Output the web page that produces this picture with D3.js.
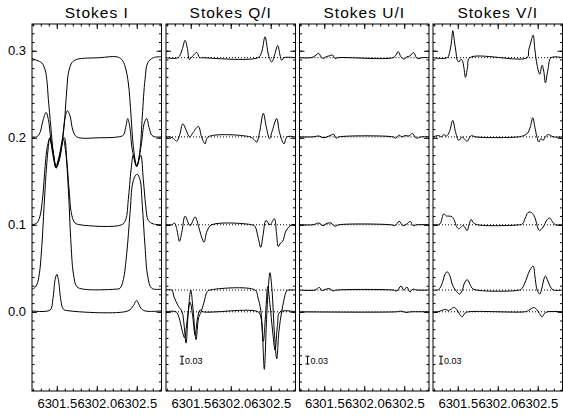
<!DOCTYPE html>
<html><head><meta charset="utf-8">
<script src="https://cdn.jsdelivr.net/npm/d3@7"></script>
<style>body{margin:0;background:#fff}svg{display:block;font-family:"Liberation Sans",Arial,sans-serif}</style>
</head><body><svg id="c" width="563" height="416"></svg>
<script>
// ---------------- data ----------------
const panelTitles = ["Stokes I", "Stokes Q/I", "Stokes U/I", "Stokes V/I"];
const offsets = [0.292, 0.201, 0.1, 0.025, 0.0];
const yTicks = [0.0, 0.1, 0.2, 0.3];
const xTicks = [6301.5, 6302.0, 6302.5];
const xDomain = [6301.19, 6302.81];
const yDomain = [-0.091, 0.3307];
const scaleBarLabel = "0.03";
const scaleBarSpan = [-0.060, -0.051];
const scaleBarLambda = [6301.39, 6301.29, 6301.29];

// Stokes I (absolute plotted values)
const stokesI_a = [[6301.19,0.291],[6301.25,0.289],[6301.3125,0.286],[6301.354,0.278],[6301.375,0.267],[6301.395,0.244],[6301.425,0.213],[6301.4575,0.182],[6301.491,0.165],[6301.52,0.171],[6301.5625,0.190],[6301.595,0.217],[6301.625,0.255],[6301.645,0.274],[6301.6875,0.286],[6301.75,0.290],[6302.04,0.292],[6302.25,0.293],[6302.3125,0.290],[6302.354,0.282],[6302.395,0.263],[6302.429,0.225],[6302.4575,0.190],[6302.5,0.167],[6302.541,0.186],[6302.57,0.225],[6302.604,0.267],[6302.6375,0.286],[6302.7075,0.292],[6302.81,0.293]];
const stokesI_b = [[6301.19,0.201],[6301.25,0.201],[6301.29,0.206],[6301.325,0.219],[6301.366,0.229],[6301.395,0.221],[6301.425,0.198],[6301.4575,0.177],[6301.491,0.166],[6301.5325,0.175],[6301.575,0.202],[6301.604,0.223],[6301.6325,0.231],[6301.666,0.225],[6301.70,0.209],[6301.75,0.201],[6302.04,0.200],[6302.27,0.201],[6302.3325,0.203],[6302.3625,0.212],[6302.3875,0.222],[6302.4125,0.213],[6302.445,0.186],[6302.5,0.167],[6302.554,0.190],[6302.595,0.217],[6302.625,0.222],[6302.654,0.212],[6302.6875,0.203],[6302.729,0.201],[6302.81,0.201]];
const stokesI_c = [[6301.19,0.100],[6301.25,0.102],[6301.29,0.110],[6301.325,0.133],[6301.354,0.167],[6301.3825,0.190],[6301.416,0.200],[6301.45,0.186],[6301.491,0.168],[6301.5325,0.180],[6301.575,0.198],[6301.595,0.200],[6301.625,0.175],[6301.654,0.140],[6301.6875,0.111],[6301.729,0.102],[6301.79,0.100],[6302.3125,0.100],[6302.3625,0.106],[6302.395,0.129],[6302.429,0.163],[6302.4575,0.180],[6302.5,0.168],[6302.55,0.180],[6302.5825,0.152],[6302.6125,0.122],[6302.645,0.105],[6302.7075,0.101],[6302.81,0.100]];
const stokesI_d = [[6301.19,0.026],[6301.216,0.027],[6301.25,0.031],[6301.2825,0.044],[6301.3125,0.075],[6301.341,0.121],[6301.366,0.159],[6301.395,0.190],[6301.41,0.199],[6301.45,0.185],[6301.491,0.166],[6301.5325,0.178],[6301.5825,0.198],[6301.61,0.185],[6301.645,0.140],[6301.675,0.083],[6301.7075,0.044],[6301.75,0.029],[6301.8325,0.026],[6302.229,0.026],[6302.291,0.027],[6302.3325,0.037],[6302.375,0.067],[6302.416,0.113],[6302.45,0.148],[6302.4875,0.157],[6302.5075,0.158],[6302.541,0.152],[6302.57,0.122],[6302.604,0.075],[6302.6375,0.041],[6302.6875,0.027],[6302.81,0.026]];
const stokesI_e = [[6301.19,0.001],[6301.416,0.002],[6301.45,0.014],[6301.479,0.037],[6301.5,0.043],[6301.52,0.037],[6301.55,0.014],[6301.5825,0.003],[6301.666,0.001],[6302.39,0.001],[6302.4575,0.007],[6302.4875,0.012],[6302.5,0.013],[6302.52,0.010],[6302.554,0.004],[6302.604,0.001],[6302.81,0.001]];

// Stokes Q/I (deviation from offset, plot units)
const stokesQ_a = [[6301.19,0],[6301.341,0],[6301.391,0.009],[6301.429,0.020],[6301.46,0.009],[6301.4825,-0.002],[6301.516,0.001],[6301.575,0.006],[6301.61,0],[6301.6375,0],[6302.341,0],[6302.385,0.006],[6302.429,0.024],[6302.4725,0.003],[6302.5125,-0.005],[6302.5475,0.003],[6302.5875,0.014],[6302.616,0.003],[6302.6375,-0.003],[6302.666,0],[6302.81,0]];
const stokesQ_b = [[6301.19,0],[6301.241,0],[6301.285,-0.002],[6301.325,-0.005],[6301.36,0.002],[6301.40,0.015],[6301.441,0.008],[6301.485,0],[6301.529,0.005],[6301.595,0.012],[6301.635,0],[6301.679,-0.008],[6301.716,0],[6302.241,0],[6302.291,-0.003],[6302.325,-0.006],[6302.36,0.005],[6302.4075,0.027],[6302.4475,0.010],[6302.485,-0.002],[6302.5225,0.008],[6302.575,0.021],[6302.61,0.005],[6302.666,-0.008],[6302.704,0],[6302.81,0]];
const stokesQ_c = [[6301.19,0],[6301.2625,0],[6301.2975,0.002],[6301.329,-0.007],[6301.3575,-0.019],[6301.391,-0.007],[6301.429,0.010],[6301.491,-0.001],[6301.554,0.009],[6301.5975,-0.002],[6301.635,-0.014],[6301.666,-0.020],[6301.704,-0.007],[6301.7625,0],[6302.2625,0],[6302.304,-0.002],[6302.341,-0.014],[6302.375,-0.026],[6302.404,-0.012],[6302.441,0.005],[6302.491,0],[6302.545,0.007],[6302.5725,-0.010],[6302.595,-0.025],[6302.6225,-0.021],[6302.65,-0.019],[6302.691,-0.007],[6302.7625,0],[6302.81,0]];
const stokesQ_d = [[6301.19,0],[6301.2625,0],[6301.291,-0.008],[6301.341,-0.018],[6301.391,-0.025],[6301.416,-0.040],[6301.441,-0.061],[6301.466,-0.029],[6301.5,0],[6301.529,-0.023],[6301.566,-0.057],[6301.5975,-0.032],[6301.629,-0.025],[6301.666,-0.014],[6301.704,-0.002],[6301.741,0],[6302.304,0],[6302.341,-0.009],[6302.375,-0.023],[6302.3975,-0.052],[6302.42,-0.091],[6302.4475,-0.034],[6302.4725,0.006],[6302.491,0.020],[6302.516,0],[6302.5475,-0.052],[6302.575,-0.079],[6302.604,-0.046],[6302.6375,-0.025],[6302.666,-0.011],[6302.70,-0.001],[6302.741,0],[6302.81,0]];
const stokesQ_e = [[6301.19,0],[6301.316,0],[6301.354,-0.007],[6301.391,-0.021],[6301.4225,-0.030],[6301.454,-0.010],[6301.491,0.011],[6301.5225,-0.004],[6301.554,-0.027],[6301.585,-0.007],[6301.616,0.002],[6301.654,0],[6302.341,0],[6302.379,-0.007],[6302.4075,-0.034],[6302.435,-0.004],[6302.4625,0.029],[6302.491,0.008],[6302.5225,-0.021],[6302.554,-0.044],[6302.585,-0.015],[6302.616,0],[6302.81,0]];

// Stokes U/I
const stokesU_a = [[6301.19,0],[6301.334,0],[6301.384,0.002],[6301.43,0.005],[6301.459,0.001],[6301.49,-0.001],[6301.521,0.001],[6301.559,0.002],[6301.605,0.003],[6301.634,-0.001],[6301.671,0],[6302.359,0],[6302.396,0.003],[6302.425,0.007],[6302.459,0.001],[6302.496,-0.0015],[6302.534,0.001],[6302.571,0.002],[6302.6175,0.006],[6302.6525,0],[6302.684,-0.001],[6302.721,0],[6302.81,0]];
const stokesU_b = [[6301.19,0],[6301.359,0],[6301.434,0.001],[6301.484,-0.001],[6301.534,0],[6301.584,0.002],[6301.6175,0.003],[6301.646,-0.0015],[6301.684,0],[6302.359,0],[6302.396,-0.0015],[6302.434,0.002],[6302.471,0],[6302.509,0.0015],[6302.559,0.001],[6302.605,0.004],[6302.634,0],[6302.665,-0.0015],[6302.709,0],[6302.81,0]];
const stokesU_c = [[6301.19,0],[6301.359,0],[6301.434,0.002],[6301.484,-0.001],[6301.534,0.0017],[6301.584,0.002],[6301.634,-0.0017],[6301.684,0],[6302.334,0],[6302.384,-0.001],[6302.4375,0.004],[6302.484,-0.001],[6302.534,0.001],[6302.575,0.004],[6302.609,-0.001],[6302.659,0],[6302.81,0]];
const stokesU_d = [[6301.19,0],[6301.384,0],[6301.4375,0.003],[6301.471,-0.0006],[6301.521,0.001],[6301.571,0.0015],[6301.609,-0.001],[6301.659,0],[6302.359,0],[6302.409,-0.001],[6302.459,0.0046],[6302.496,0],[6302.534,0.0035],[6302.571,-0.0023],[6302.609,0.001],[6302.659,0],[6302.81,0]];
const stokesU_e = [[6301.19,0],[6302.396,0],[6302.459,0.0008],[6302.521,-0.0007],[6302.584,0],[6302.81,0]];

// Stokes V/I
const stokesV_a = [[6301.19,0],[6301.3675,0],[6301.40,0.007],[6301.421,0.018],[6301.4375,0.031],[6301.459,0.018],[6301.4775,0.0066],[6301.4925,-0.0026],[6301.515,-0.005],[6301.534,-0.002],[6301.555,-0.003],[6301.5775,-0.012],[6301.596,-0.0225],[6301.621,-0.012],[6301.65,0],[6302.3675,0],[6302.3875,0.009],[6302.415,0.018],[6302.4425,0.026],[6302.465,0.009],[6302.4925,-0.0086],[6302.525,-0.019],[6302.555,-0.0086],[6302.5775,-0.0166],[6302.596,-0.029],[6302.6275,-0.014],[6302.6675,0],[6302.81,0]];
const stokesV_b = [[6301.19,0],[6301.2625,0.0015],[6301.296,0],[6301.325,0.0026],[6301.359,0.001],[6301.396,0.006],[6301.4375,0.019],[6301.471,0.006],[6301.5125,-0.004],[6301.555,0],[6301.5775,-0.002],[6301.6175,-0.005],[6301.646,-0.001],[6301.671,0.0015],[6301.721,0],[6302.259,0],[6302.325,0.0015],[6302.371,0.004],[6302.409,0.012],[6302.4375,0.022],[6302.465,0.011],[6302.49,0],[6302.5125,-0.006],[6302.54,-0.002],[6302.565,-0.004],[6302.596,0],[6302.634,0.0026],[6302.696,0],[6302.81,0]];
const stokesV_c = [[6301.19,0],[6301.259,0],[6301.284,0.002],[6301.325,0.0126],[6301.359,0.010],[6301.3875,0.010],[6301.43,0.009],[6301.459,0.0046],[6301.484,-0.002],[6301.5125,-0.0046],[6301.546,-0.0023],[6301.571,-0.001],[6301.6175,-0.0066],[6301.64,0],[6301.6675,0.006],[6301.696,0.0023],[6301.746,0],[6302.271,0],[6302.309,0.001],[6302.346,0.008],[6302.3775,0.014],[6302.409,0.0146],[6302.45,0.011],[6302.4775,0.0046],[6302.496,-0.0023],[6302.521,-0.0066],[6302.5525,-0.0046],[6302.584,0],[6302.615,0.0057],[6302.65,0.0077],[6302.684,0.0035],[6302.721,0],[6302.81,0]];
const stokesV_d = [[6301.19,0],[6301.246,0],[6301.275,0.002],[6301.309,0.009],[6301.34,0.018],[6301.3675,0.021],[6301.4025,0.016],[6301.434,0.0057],[6301.471,0],[6301.521,-0.0046],[6301.5525,-0.001],[6301.584,0.008],[6301.6175,0.012],[6301.646,0.008],[6301.6775,0.0023],[6301.734,0],[6302.271,0],[6302.305,0.002],[6302.334,0.007],[6302.3675,0.015],[6302.4025,0.023],[6302.4425,0.0276],[6302.465,0.016],[6302.4925,0],[6302.525,-0.0046],[6302.5525,0.0023],[6302.5775,0.0126],[6302.596,0.016],[6302.6275,0.0103],[6302.659,0.0035],[6302.696,0],[6302.81,0]];
const stokesV_e = [[6301.19,0],[6301.246,0],[6301.296,0.0014],[6301.346,0.0028],[6301.384,0.0014],[6301.415,0.003],[6301.45,0.005],[6301.484,0.003],[6301.515,-0.0015],[6301.555,-0.0057],[6301.59,-0.0015],[6301.634,0],[6302.334,0],[6302.384,0.0014],[6302.421,0.0037],[6302.45,0.005],[6302.484,0.003],[6302.521,-0.002],[6302.555,-0.0057],[6302.584,-0.002],[6302.621,0],[6302.81,0]];

const panels = [
  {curves: [stokesI_a, stokesI_b, stokesI_c, stokesI_d, stokesI_e], relative: false},
  {curves: [stokesQ_a, stokesQ_b, stokesQ_c, stokesQ_d, stokesQ_e], relative: true},
  {curves: [stokesU_a, stokesU_b, stokesU_c, stokesU_d, stokesU_e], relative: true},
  {curves: [stokesV_a, stokesV_b, stokesV_c, stokesV_d, stokesV_e], relative: true}
];

// ---------------- layout ----------------
const panelLeft = [32, 166, 299.5, 433];
const panelWidth = 129.5;
const plotTop = 24, plotBottom = 391;

const svg = d3.select("#c");
const y = d3.scaleLinear().domain(yDomain).range([plotBottom, plotTop]);

panels.forEach((p, i) => {
  const x0 = panelLeft[i], x1 = panelLeft[i] + panelWidth;
  const x = d3.scaleLinear().domain(xDomain).range([x0, x1]);
  const g = svg.append("g");
  const clipId = "clip" + i;
  svg.append("clipPath").attr("id", clipId).append("rect")
    .attr("x", x0).attr("y", plotTop).attr("width", x1 - x0).attr("height", plotBottom - plotTop);

  if (p.relative) {
    g.append("g").attr("clip-path", `url(#${clipId})`).selectAll("line").data(offsets).join("line")
      .attr("x1", x0).attr("x2", x1).attr("y1", d => y(d)).attr("y2", d => y(d))
      .attr("stroke", "#000").attr("stroke-width", 1).attr("stroke-dasharray", "1,2");
  }

  const line = d3.line().curve(d3.curveCatmullRom.alpha(0.5));
  g.append("g").attr("clip-path", `url(#${clipId})`).selectAll("path").data(p.curves).join("path")
    .attr("d", (c, k) => line(c.map(d => [x(d[0]), y(p.relative ? offsets[k] + d[1] : d[1])])))
    .attr("fill", "none").attr("stroke", "#000").attr("stroke-width", 1);

  const minorX = x.ticks(20);
  const minorY = y.ticks(40);
  const styleAxis = sel => { sel.select(".domain").remove(); sel.selectAll("line").attr("stroke", "#000"); };
  const styleText = s => s.selectAll("text").attr("font-size", 13).attr("font-family", "Liberation Sans, Arial, sans-serif").attr("fill", "#000");
  g.append("g").attr("transform", `translate(0,${plotBottom})`)
    .call(d3.axisBottom(x).tickValues(minorX).tickSizeInner(-2.5).tickSizeOuter(0).tickFormat(""))
    .call(styleAxis);
  g.append("g").attr("transform", `translate(0,${plotBottom})`)
    .call(d3.axisBottom(x).tickValues(xTicks).tickSizeInner(-5).tickSizeOuter(0).tickPadding(8).tickFormat(d3.format(".1f")))
    .call(styleAxis).call(styleText);
  g.append("g").attr("transform", `translate(0,${plotTop})`)
    .call(d3.axisTop(x).tickValues(minorX).tickSizeInner(-2.5).tickSizeOuter(0).tickFormat(""))
    .call(styleAxis);
  g.append("g").attr("transform", `translate(0,${plotTop})`)
    .call(d3.axisTop(x).tickValues(xTicks).tickSizeInner(-5).tickSizeOuter(0).tickFormat(""))
    .call(styleAxis);
  g.append("g").attr("transform", `translate(${x0},0)`)
    .call(d3.axisLeft(y).tickValues(minorY).tickSizeInner(-2.5).tickSizeOuter(0).tickFormat(""))
    .call(styleAxis);
  g.append("g").attr("transform", `translate(${x0},0)`)
    .call(d3.axisLeft(y).tickValues(yTicks).tickSizeInner(-5).tickSizeOuter(0).tickPadding(6)
      .tickFormat(i === 0 ? d3.format(".1f") : ""))
    .call(styleAxis).call(styleText);
  g.append("g").attr("transform", `translate(${x1},0)`)
    .call(d3.axisRight(y).tickValues(minorY).tickSizeInner(-2.5).tickSizeOuter(0).tickFormat(""))
    .call(styleAxis);
  g.append("g").attr("transform", `translate(${x1},0)`)
    .call(d3.axisRight(y).tickValues(yTicks).tickSizeInner(-5).tickSizeOuter(0).tickFormat(""))
    .call(styleAxis);

  g.append("rect").attr("x", x0).attr("y", plotTop).attr("width", x1 - x0).attr("height", plotBottom - plotTop)
    .attr("fill", "none").attr("stroke", "#000").attr("stroke-width", 1);

  svg.append("text").attr("x", (x0 + x1) / 2).attr("y", 18).attr("text-anchor", "middle")
    .attr("font-size", 15.5).attr("letter-spacing", 1).attr("fill", "#000").text(panelTitles[i]);

  if (i > 0) {
    const bx = x(scaleBarLambda[i - 1]);
    const sb = g.append("g");
    sb.append("line").attr("x1", bx).attr("x2", bx).attr("y1", y(scaleBarSpan[0])).attr("y2", y(scaleBarSpan[1])).attr("stroke", "#000");
    scaleBarSpan.forEach(v => sb.append("line").attr("x1", bx - 2).attr("x2", bx + 2).attr("y1", y(v)).attr("y2", y(v)).attr("stroke", "#000"));
    sb.append("text").attr("x", bx + 3).attr("y", y(scaleBarSpan[0]) - 0.5).attr("font-size", 9).attr("fill", "#000").text(scaleBarLabel);
  }
});
</script></body></html>
